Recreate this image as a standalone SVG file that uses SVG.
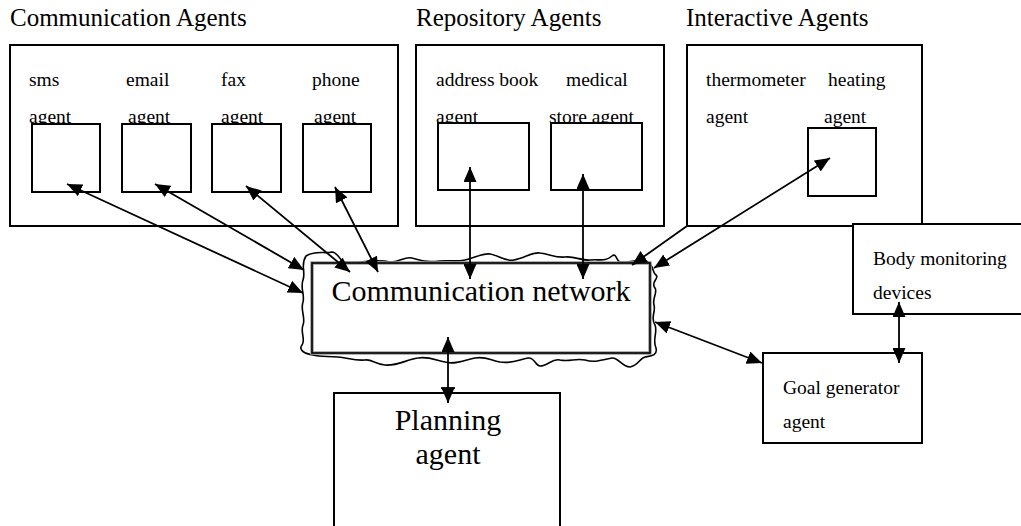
<svg xmlns="http://www.w3.org/2000/svg" width="1021" height="526" viewBox="0 0 1021 526">
<defs>
<marker id="ah" markerUnits="userSpaceOnUse" markerWidth="15" markerHeight="13" refX="15" refY="6.5" orient="auto-start-reverse" viewBox="0 0 15 13">
<path d="M0,0 L15,6.5 L0,13 Z" fill="#000"/>
</marker>
<style>
.box{fill:#fff;stroke:#000;stroke-width:2}
.t{font-family:"Liberation Serif","Times New Roman",serif;fill:#000}
.title{font-size:25px}
.lbl{font-size:19.5px}
.big{font-size:30px}
.c{fill:none;stroke:#000;stroke-width:1.8}
.bi{marker-start:url(#ah);marker-end:url(#ah)}
.uni{marker-end:url(#ah)}
</style>
</defs>
<rect width="1021" height="526" fill="#fff"/>

<g id="communication-agents">
<text class="t title" x="10" y="26">Communication Agents</text>
<rect class="box" x="10" y="45" width="388" height="181"/>
<g id="sms-agent">
<text class="t lbl" x="29" y="86">sms</text>
<text class="t lbl" x="29" y="123">agent</text>
<rect class="box" x="32" y="124" width="68" height="68"/>
</g>
<g id="email-agent">
<text class="t lbl" x="126" y="86">email</text>
<text class="t lbl" x="128" y="123">agent</text>
<rect class="box" x="122" y="124" width="69" height="68"/>
</g>
<g id="fax-agent">
<text class="t lbl" x="221" y="86">fax</text>
<text class="t lbl" x="221" y="123">agent</text>
<rect class="box" x="212" y="124" width="69" height="68"/>
</g>
<g id="phone-agent">
<text class="t lbl" x="312" y="86">phone</text>
<text class="t lbl" x="314" y="123">agent</text>
<rect class="box" x="303" y="124" width="68" height="68"/>
</g>
</g>

<g id="repository-agents">
<text class="t title" x="416" y="26">Repository Agents</text>
<rect class="box" x="416" y="45" width="248" height="181"/>
<g id="address-book-agent">
<text class="t lbl" x="436" y="86">address book</text>
<text class="t lbl" x="436" y="123">agent</text>
<rect class="box" x="438" y="123" width="91" height="67"/>
</g>
<g id="medical-store-agent">
<text class="t lbl" x="566" y="86">medical</text>
<text class="t lbl" x="549" y="123">store agent</text>
<rect class="box" x="551" y="123" width="91" height="67"/>
</g>
</g>

<g id="interactive-agents">
<text class="t title" x="686" y="26">Interactive Agents</text>
<rect class="box" x="687" y="45" width="235" height="181"/>
<g id="thermometer-agent">
<text class="t lbl" x="706" y="86">thermometer</text>
<text class="t lbl" x="706" y="123">agent</text>
</g>
<g id="heating-agent">
<text class="t lbl" x="828" y="86">heating</text>
<text class="t lbl" x="824" y="123">agent</text>
<rect class="box" x="808" y="128" width="68" height="68"/>
</g>
</g>

<g id="body-monitoring-devices">
<rect class="box" x="853" y="224" width="200" height="90"/>
<text class="t lbl" x="873" y="265">Body monitoring</text>
<text class="t lbl" x="873" y="299">devices</text>
</g>

<g id="goal-generator-agent">
<rect class="box" x="763" y="353" width="159" height="90"/>
<text class="t lbl" x="783" y="394">Goal generator</text>
<text class="t lbl" x="783" y="428">agent</text>
</g>

<g id="planning-agent">
<rect class="box" x="334" y="393" width="226" height="150"/>
<text class="t big" x="448" y="430" text-anchor="middle">Planning</text>
<text class="t big" x="448" y="464" text-anchor="middle">agent</text>
</g>

<g id="communication-network">
<path fill="#fff" stroke="#000" stroke-width="1.6" d="M306,256 C315,250 325,254 332,252 C338,252 340,262 345,262 C360,264 375,258 390,262 C400,262 405,256 412,258 C425,262 430,262 440,261 C450,260 455,262 465,260 C475,258 482,253 490,254 C498,255 505,262 514,260 C525,258 532,252 540,253 C550,254 555,258 565,257 C575,256 582,261 590,260 C600,259 605,262 612,256 C616,252 617,262 620,262 C630,263 640,258 648,262 C654,266 652,272 656,275 C660,278 650,282 655,288 C658,292 652,298 654,305 C656,312 650,318 655,325 C658,332 652,340 656,348 C658,356 650,356 645,357 C640,358 638,366 630,367 C622,367 618,357 612,358 C600,360 595,363 585,360 C575,358 570,362 560,360 C552,358 548,366 540,366 C535,366 535,357 528,358 C518,360 512,364 500,362 C490,360 485,356 475,358 C465,360 455,365 445,362 C435,360 428,356 418,358 C405,360 398,366 385,365 C375,364 372,359 365,360 C355,361 348,358 338,357 C328,356 320,357 313,355 C305,354 298,350 302,345 C306,340 300,332 303,325 C306,318 300,310 303,302 C305,295 300,288 303,280 C306,272 300,265 306,256 Z"/>
<rect x="312" y="263" width="338" height="90" fill="#fff" stroke="#999" stroke-width="3.5"/>
<rect x="312" y="263" width="338" height="90" fill="none" stroke="#000" stroke-width="1.6"/>
<text class="t big" x="481" y="301" text-anchor="middle">Communication network</text>
</g>

<g id="connectors">
<line class="c bi" x1="67" y1="184" x2="303" y2="293"/>
<line class="c bi" x1="155" y1="184" x2="304" y2="270"/>
<line class="c bi" x1="246" y1="186" x2="350" y2="272"/>
<line class="c bi" x1="335" y1="187" x2="378" y2="272"/>
<line class="c bi" x1="470" y1="167" x2="470" y2="279"/>
<line class="c bi" x1="583" y1="174" x2="583" y2="279"/>
<line class="c uni" x1="687" y1="226" x2="632" y2="265"/>
<line class="c bi" x1="830" y1="158" x2="654" y2="268"/>
<line class="c bi" x1="655" y1="322" x2="762" y2="363"/>
<line class="c bi" x1="899" y1="302" x2="899" y2="363"/>
<line class="c bi" x1="448" y1="337" x2="448" y2="403"/>
<line class="c" x1="441" y1="388" x2="455" y2="388"/>
</g>
</svg>
